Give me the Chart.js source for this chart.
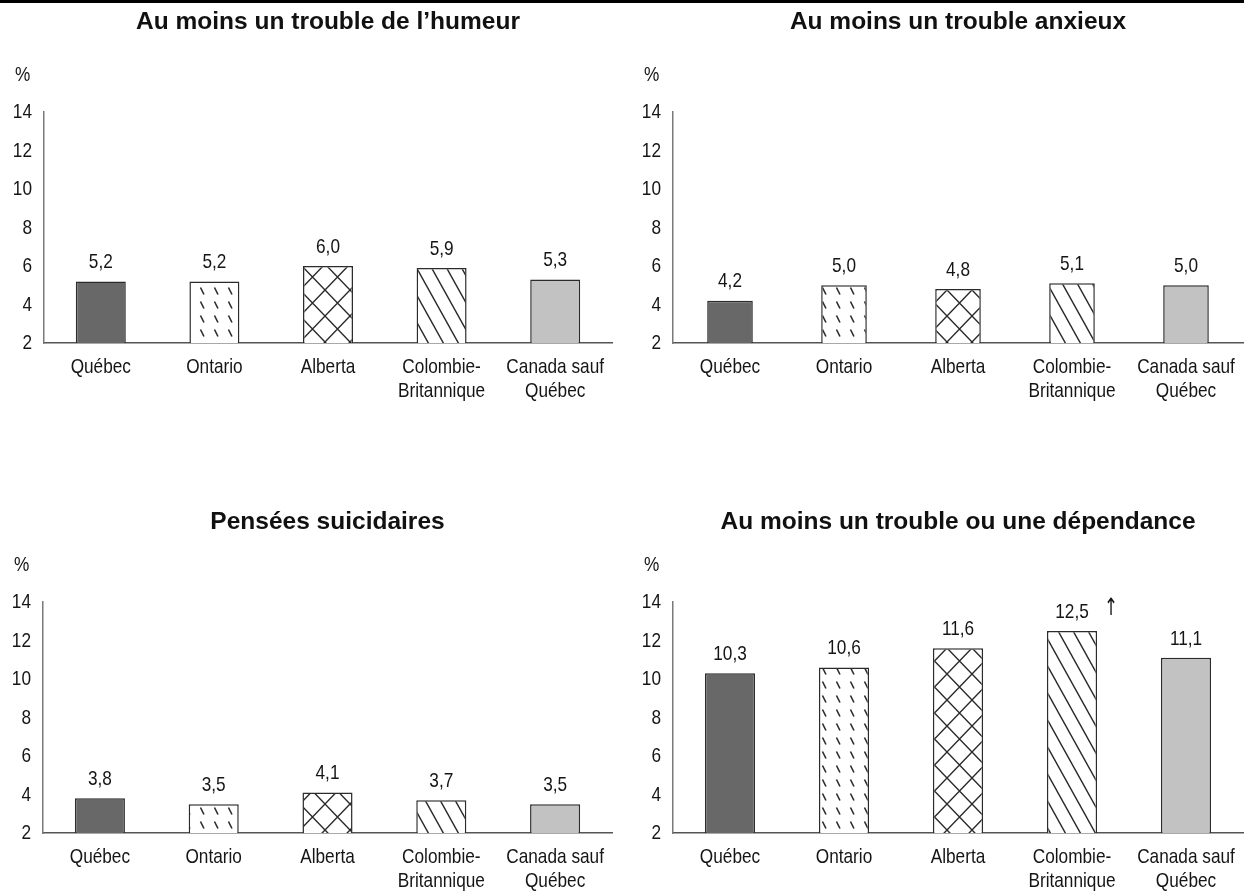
<!DOCTYPE html>
<html lang="fr">
<head>
<meta charset="utf-8">
<title>Troubles mentaux par province</title>
<script src="https://cdn.jsdelivr.net/npm/chart.js@4.4.1/dist/chart.umd.min.js"></script>
<style>
  html, body { margin: 0; padding: 0; background: #fff; }
  body { width: 1244px; height: 892px; position: relative; overflow: hidden; }
  #rule { position: absolute; left: 0; top: 0; width: 1244px; height: 3px; background: #000; }
  canvas { position: absolute; }
</style>
</head>
<body>
<div id="rule"></div>
<canvas id="c1"></canvas>
<canvas id="c2"></canvas>
<canvas id="c3"></canvas>
<canvas id="c4"></canvas>
<script>
// ---- Data ----
const categories = ['Québec', 'Ontario', 'Alberta', ['Colombie-', 'Britannique'], ['Canada sauf', 'Québec']];
const yTicks = [2, 4, 6, 8, 10, 12, 14];
const yUnit = '%';

const titleHumeur = 'Au moins un trouble de l’humeur';
const titleAnxieux = 'Au moins un trouble anxieux';
const titleSuicidaires = 'Pensées suicidaires';
const titleDependance = 'Au moins un trouble ou une dépendance';

const humeur = [5.2, 5.2, 6.0, 5.9, 5.3];
const anxieux = [4.2, 5.0, 4.8, 5.1, 5.0];
const suicidaires = [3.8, 3.5, 4.1, 3.7, 3.5];
const dependance = [10.3, 10.6, 11.6, 12.5, 11.1];
// significance marker printed beside a value label
const marksDependance = ['', '', '', '↑', ''];

// ---- Styling ----
const SANS = '"Liberation Sans", Arial, sans-serif';
const LABEL_SIZE = 21;      // px, condensed by NARROW horizontally
const NARROW = 0.82;        // horizontal squeeze giving a condensed face
const LINE_H = 24;          // line step for two-line category labels
const INK = '#151515';

function tile(w, h, paint) {
  const c = document.createElement('canvas');
  c.width = w; c.height = h;
  const g = c.getContext('2d');
  g.fillStyle = '#fff';
  g.fillRect(0, 0, w, h);
  g.strokeStyle = '#2a2a2a';
  g.lineCap = 'butt';
  paint(g, w, h);
  return g.createPattern(c, 'repeat');
}

// short slanted dashes
const dashFill = tile(14, 14, (g) => {
  g.lineWidth = 1.6;
  g.beginPath(); g.moveTo(4.5, 3.5); g.lineTo(8, 10.5); g.stroke();
});
// diamond cross-hatch
const crossFill = tile(25, 26, (g, w, h) => {
  g.lineWidth = 1.4;
  g.beginPath();
  g.moveTo(-1, -1.04); g.lineTo(w + 1, h + 1.04);
  g.moveTo(w + 1, -1.04); g.lineTo(-1, h + 1.04);
  g.stroke();
});
// steep diagonal stripes
const stripeFill = tile(15, 27, (g, w, h) => {
  g.lineWidth = 1.4;
  g.beginPath();
  for (const k of [-1, 0, 1]) {
    g.moveTo(k * w - w / h * 2, -2);
    g.lineTo(k * w + w + w / h * 2, h + 2);
  }
  g.stroke();
});

const barFills = ['#686868', dashFill, crossFill, stripeFill, '#c2c2c2'];

const fmt = (v) => v.toFixed(1).replace('.', ',');

function condensed(ctx, text, x, y, align) {
  ctx.save();
  ctx.translate(x, y);
  ctx.scale(NARROW, 1);
  ctx.textAlign = align;
  ctx.fillText(text, 0, 0);
  ctx.restore();
}

// ---- Panels ----
const panels = [
  { id: 'c1', title: titleHumeur, values: humeur, marks: null,
    box: [0, 4, 622, 436], area: [44, 112, 612, 343], titleY: 22, bar: 0.44 },
  { id: 'c2', title: titleAnxieux, values: anxieux, marks: null,
    box: [622, 4, 622, 436], area: [673, 112, 1243, 343], titleY: 22, bar: 0.40 },
  { id: 'c3', title: titleSuicidaires, values: suicidaires, marks: null,
    box: [0, 440, 622, 452], area: [43, 602, 612, 833], titleY: 522, bar: 0.44 },
  { id: 'c4', title: titleDependance, values: dependance, marks: marksDependance,
    box: [622, 440, 622, 452], area: [673, 602, 1243, 833], titleY: 522, bar: 0.44 },
];

// Axis labels, unit, title and value labels for each panel
const annotate = {
  id: 'annotate',
  afterDatasetsDraw(chart, args, opts) {
    const { ctx, chartArea } = chart;
    const xs = chart.scales.x, ys = chart.scales.y;
    const p = opts.panel;
    ctx.save();
    ctx.fillStyle = INK;
    ctx.textBaseline = 'middle';
    ctx.font = `${LABEL_SIZE}px ${SANS}`;

    // value axis tick labels
    ys.ticks.forEach((t) => {
      condensed(ctx, String(t.value), chartArea.left - 12, ys.getPixelForValue(t.value) + 0.5, 'right');
    });
    // category labels (one or two lines)
    chart.data.labels.forEach((lab, i) => {
      const lines = Array.isArray(lab) ? lab : [lab];
      const x = xs.getPixelForValue(i);
      lines.forEach((ln, j) => {
        condensed(ctx, ln, x, chartArea.bottom + 24.5 + j * LINE_H, 'center');
      });
    });
    // value labels above bars
    const meta = chart.getDatasetMeta(0);
    meta.data.forEach((el, i) => {
      const y = el.y - 19;
      condensed(ctx, fmt(p.values[i]), el.x, y, 'center');
      if (p.marks && p.marks[i]) {
        ctx.save();
        ctx.font = `24px "DejaVu Sans", ${SANS}`;
        ctx.translate(el.x + 39, y - 3);
        ctx.scale(0.7, 1);
        ctx.textAlign = 'center';
        ctx.fillText(p.marks[i], 0, 0);
        ctx.restore();
      }
    });
    // unit above the value axis
    condensed(ctx, yUnit, chartArea.left - 29, chartArea.top - 37, 'left');
    // panel title
    ctx.font = `bold 24.5px ${SANS}`;
    ctx.fillStyle = '#111';
    ctx.textAlign = 'center';
    ctx.fillText(p.title, (chartArea.left + chartArea.right) / 2, p.titleY - p.box[1]);
    ctx.restore();
  }
};

function build() {
  panels.forEach((p) => {
    const [bx, by, bw, bh] = p.box;
    const [al, at, ar, ab] = p.area;
    const cv = document.getElementById(p.id);
    cv.width = bw; cv.height = bh;
    cv.style.left = bx + 'px'; cv.style.top = by + 'px';
    cv.style.width = bw + 'px'; cv.style.height = bh + 'px';

    new Chart(cv, {
      type: 'bar',
      data: {
        labels: categories,
        datasets: [{
          data: p.values,
          backgroundColor: barFills,
          borderColor: '#2b2b2b',
          borderWidth: 1.5,
          borderSkipped: 'start',
          barPercentage: 1,
          categoryPercentage: p.bar
        }]
      },
      options: {
        responsive: false,
        animation: false,
        devicePixelRatio: 1,
        events: [],
        layout: { padding: { top: at - by, right: bx + bw - ar, left: 0, bottom: 0 } },
        plugins: {
          legend: { display: false },
          title: { display: false },
          tooltip: { enabled: false },
          annotate: { panel: p }
        },
        scales: {
          x: {
            offset: true,
            grid: { display: false, drawTicks: false },
            border: { display: true, color: '#555', width: 1.5 },
            ticks: { display: false, autoSkip: false },
            afterFit(scale) { scale.height = by + bh - ab; }
          },
          y: {
            min: yTicks[0],
            max: yTicks[yTicks.length - 1],
            grid: { display: false, drawTicks: false },
            border: { display: true, color: '#7a7a7a', width: 1.5 },
            ticks: { display: false },
            afterBuildTicks(scale) { scale.ticks = yTicks.map((v) => ({ value: v })); },
            afterFit(scale) { scale.width = al - bx; }
          }
        }
      },
      plugins: [annotate]
    });
  });
}

const ready = document.fonts && document.fonts.load
  ? Promise.all([
      document.fonts.load(`21px ${SANS}`),
      document.fonts.load(`bold 24px ${SANS}`)
    ]).catch(() => {})
  : Promise.resolve();
ready.then(build);
</script>
</body>
</html>
